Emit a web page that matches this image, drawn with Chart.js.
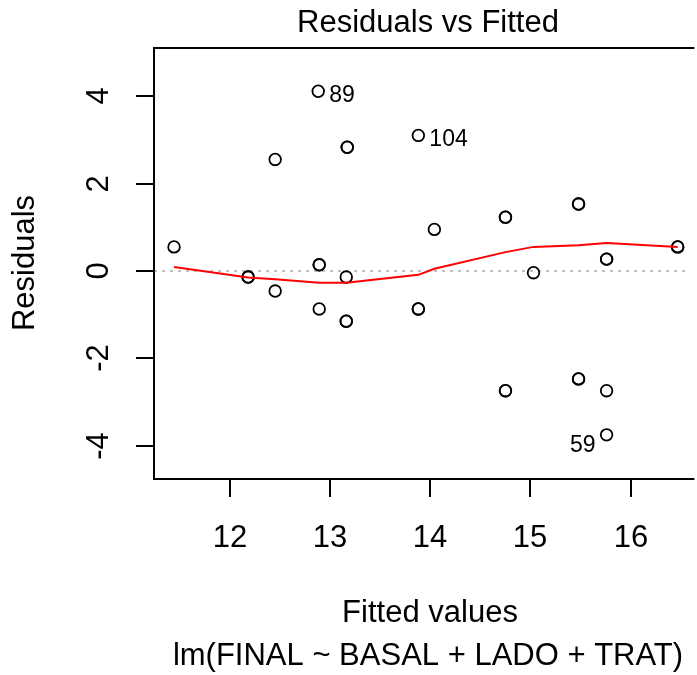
<!DOCTYPE html>
<html>
<head>
<meta charset="utf-8">
<script src="https://cdn.jsdelivr.net/npm/chart.js@4.4.1/dist/chart.umd.min.js"></script>
<style>
  html, body { margin: 0; padding: 0; background: #fff; }
  canvas { display: block; }
</style>
</head>
<body>
<canvas id="residCanvas" width="697" height="675"></canvas>
<script>
// fitted values / residuals (repeats = overplotted points)
const fittedVals = [11.44, 12.18, 12.18, 12.45, 12.89, 12.89, 12.89, 13.16, 13.16, 13.16,
  13.88, 13.88, 14.04, 14.75, 14.75, 15.03, 15.48, 15.48, 15.76, 15.76, 16.47, 16.47,
  14.75, 14.75, 15.48, 15.48, 15.76, 15.76, 12.88, 12.45, 13.17, 13.17, 13.88];
const residVals = [0.55, -0.14, -0.14, -0.46, 0.14, 0.14, -0.87, -0.14, -1.15, -1.15,
  -0.87, -0.87, 0.95, 1.23, 1.23, -0.04, 1.53, 1.53, 0.27, 0.27, 0.55, 0.55,
  -2.74, -2.74, -2.47, -2.47, -2.74, -3.75, 4.11, 2.55, 2.83, 2.83, 3.10];

// lowess smooth
const smoothX = [11.44, 12.18, 12.45, 12.89, 13.16, 13.88, 14.04, 14.75, 15.03, 15.48, 15.76, 16.47];
const smoothY = [0.09, -0.15, -0.19, -0.27, -0.27, -0.09, 0.05, 0.43, 0.55, 0.59, 0.64, 0.55];

// labelled points
const labelIds = ["89", "104", "59"];
const labelX = [12.88, 13.88, 15.76];
const labelY = [4.11, 3.10, -3.75];
const labelSide = ["right", "right", "left"];

const xTicks = [12, 13, 14, 15, 16];
const yTicks = [-4, -2, 0, 2, 4];

const FONT = '"Liberation Sans", Arial, sans-serif';

const rDecor = {
  id: 'rDecor',
  beforeDatasetsDraw(chart) {
    const { ctx, chartArea: a, scales: { x, y } } = chart;
    // dotted zero line
    ctx.save();
    ctx.strokeStyle = '#aaaaaa';
    ctx.lineWidth = 1.5;
    ctx.setLineDash([3, 5]);
    ctx.beginPath();
    ctx.moveTo(a.left, y.getPixelForValue(0));
    ctx.lineTo(a.right, y.getPixelForValue(0));
    ctx.stroke();
    ctx.restore();
  },
  afterDraw(chart) {
    const { ctx, chartArea: a, scales: { x, y } } = chart;
    ctx.save();
    ctx.strokeStyle = '#000';
    ctx.lineWidth = 2;
    // box (right side runs off the page)
    ctx.beginPath();
    ctx.moveTo(a.right + 5, a.top);
    ctx.lineTo(a.left, a.top);
    ctx.lineTo(a.left, a.bottom);
    ctx.lineTo(a.right + 5, a.bottom);
    ctx.stroke();

    ctx.fillStyle = '#000';
    ctx.font = '31px ' + FONT;
    ctx.textAlign = 'center';
    ctx.textBaseline = 'middle';
    xTicks.forEach(v => {
      const px = Math.round(x.getPixelForValue(v));
      ctx.beginPath();
      ctx.moveTo(px, a.bottom);
      ctx.lineTo(px, a.bottom + 18);
      ctx.stroke();
      ctx.fillText(String(v), px, 538);
    });
    yTicks.forEach(v => {
      const py = Math.round(y.getPixelForValue(v));
      ctx.beginPath();
      ctx.moveTo(a.left, py);
      ctx.lineTo(a.left - 18, py);
      ctx.stroke();
      ctx.save();
      ctx.translate(99, py);
      ctx.rotate(-Math.PI / 2);
      ctx.fillText(String(v), 0, 0);
      ctx.restore();
    });

    // titles
    ctx.fillText('Residuals vs Fitted', 428, 23);
    ctx.fillText('Fitted values', 430, 613);
    ctx.fillText('lm(FINAL ~ BASAL + LADO + TRAT)', 428, 656);
    ctx.save();
    ctx.translate(25, 263);
    ctx.rotate(-Math.PI / 2);
    ctx.fillText('Residuals', 0, 0);
    ctx.restore();

    // point ids
    ctx.font = '23px ' + FONT;
    labelIds.forEach((t, i) => {
      const px = x.getPixelForValue(labelX[i]);
      const py = y.getPixelForValue(labelY[i]);
      if (labelSide[i] === 'right') {
        ctx.textAlign = 'left';
        ctx.fillText(t, px + 11, py + 4);
      } else {
        ctx.textAlign = 'right';
        ctx.fillText(t, px - 11, py + 11);
      }
    });
    ctx.restore();
  }
};

new Chart(document.getElementById('residCanvas'), {
  type: 'scatter',
  data: {
    datasets: [
      {
        label: 'residuals',
        data: fittedVals.map((v, i) => ({ x: v, y: residVals[i] })),
        pointStyle: 'circle',
        pointRadius: 5.8,
        pointBorderWidth: 1.8,
        borderColor: '#000',
        backgroundColor: 'rgba(0,0,0,0)',
        order: 2
      },
      {
        type: 'line',
        label: 'smooth',
        data: smoothX.map((v, i) => ({ x: v, y: smoothY[i] })),
        borderColor: '#ff0000',
        borderWidth: 2,
        pointRadius: 0,
        tension: 0,
        fill: false,
        order: 1
      }
    ]
  },
  options: {
    responsive: false,
    animation: false,
    devicePixelRatio: 1,
    layout: { padding: { left: 154, top: 48, right: 0, bottom: 196 } },
    plugins: { legend: { display: false }, tooltip: { enabled: false } },
    scales: {
      x: { type: 'linear', min: 11.24, max: 16.587, display: false },
      y: { type: 'linear', min: -4.76, max: 5.10, display: false }
    }
  },
  plugins: [rDecor]
});
</script>
</body>
</html>
